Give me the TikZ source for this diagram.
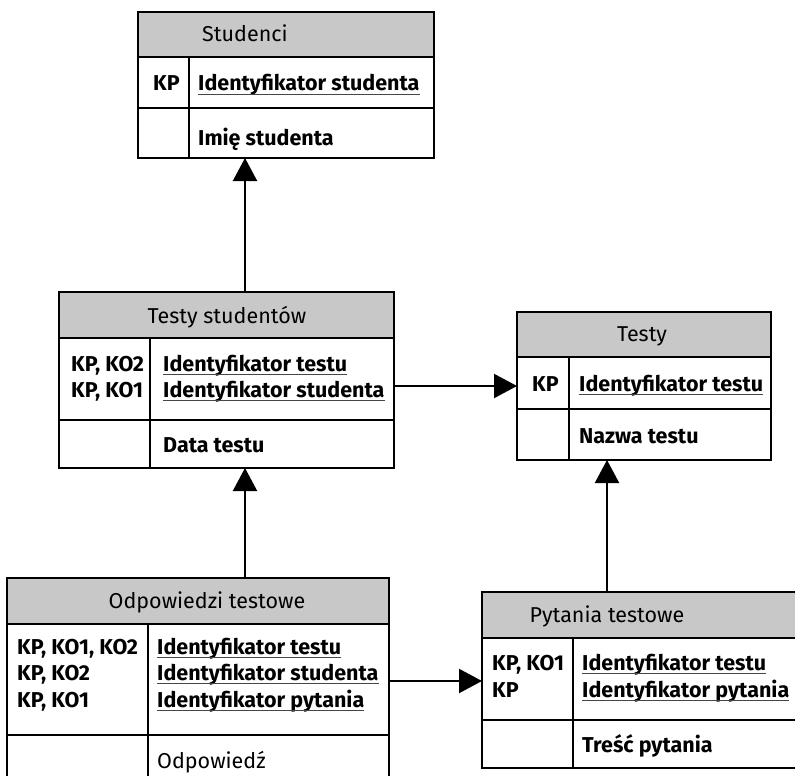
\documentclass[tikz,border=0pt]{standalone}
\usepackage{fontspec}
\setmainfont{Fira Sans}
\usetikzlibrary{arrows.meta}
\definecolor{hdrgray}{RGB}{200,200,200}
\definecolor{ulgray}{RGB}{70,70,70}
\newcommand\erfont{\fontsize{21.5}{25}\selectfont}
\tikzset{
  tbl/.style={draw=black, line width=1.6pt},
  hdrfill/.style={fill=hdrgray},
  htxt/.style={inner sep=0pt, anchor=base, font=\erfont},
  ktxt/.style={inner sep=0pt, anchor=base west, font=\erfont\bfseries},
  atxt/.style={inner sep=0pt, anchor=base west, font=\erfont\bfseries},
  rtxt/.style={inner sep=0pt, anchor=base west, font=\erfont},
  ulline/.style={draw=ulgray, line width=1.3pt},
  conn/.style={line width=2.2pt, -{Triangle[length=23pt,width=24pt]}}
}
\newcommand\ulattr[4]{%
  \node[atxt] (#1) at (#2,#3) {#4};
  \draw[ulline] ([yshift=-3.5pt]#1.base west) -- ([yshift=-3.5pt]#1.base east);}
\newcommand\erbox[7]{% x1 y1 yh yr y2 xd x2
  \fill[hdrfill] (#1,#2) rectangle (#7,#3);
  \draw[tbl] (#1,#2) rectangle (#7,#5);
  \draw[tbl] (#1,#3) -- (#7,#3);
  \draw[tbl] (#1,#4) -- (#7,#4);
  \draw[tbl] (#6,#3) -- (#6,#5);}
\begin{document}
\begin{tikzpicture}[x=1pt,y=-1pt]
\path[use as bounding box, clip] (0,0) rectangle (795,776);
\fill[white] (0,0) rectangle (795,776);

% Studenci
\erbox{138}{12}{57}{108}{158}{189}{434}
\node[htxt] (studH) at (245,42) {Studenci};
\node[ktxt] (studK1) at (153,91) {KP};
\ulattr{studA1}{198}{91}{Identyfikator studenta}
\node[atxt] (studA2) at (198,145) {Imię studenta};

% Testy studentow
\erbox{59}{292}{338}{420}{468}{150}{394}
\node[htxt] (tsH) at (227,323) {Testy studentów};
\node[ktxt] (tsK1) at (71,371) {KP, KO2};
\node[ktxt] (tsK2) at (71,397) {KP, KO1};
\ulattr{tsA1}{163}{371}{Identyfikator testu}
\ulattr{tsA2}{163}{397}{Identyfikator studenta}
\node[atxt] (tsA3) at (163,452) {Data testu};

% Testy
\erbox{517}{312}{357}{409}{460}{569}{771}
\node[htxt] (tH) at (642,341) {Testy};
\node[ktxt] (tK1) at (532,391) {KP};
\ulattr{tA1}{579}{391}{Identyfikator testu}
\node[atxt] (tA2) at (579,443) {Nazwa testu};

% Odpowiedzi testowe
\erbox{7}{578}{624}{735}{800}{148}{389}
\node[htxt] (oH) at (207,608) {Odpowiedzi testowe};
\node[ktxt] (oK1) at (17,654) {KP, KO1, KO2};
\node[ktxt] (oK2) at (17,680) {KP, KO2};
\node[ktxt] (oK3) at (17,707) {KP, KO1};
\ulattr{oA1}{157}{654}{Identyfikator testu}
\ulattr{oA2}{157}{680}{Identyfikator studenta}
\ulattr{oA3}{157}{707}{Identyfikator pytania}
\node[rtxt] (oA4) at (157,768) {Odpowiedź};

% Pytania testowe
\erbox{482}{592}{638}{720}{768}{573}{830}
\node[htxt] (pH) at (607,622) {Pytania testowe};
\node[ktxt] (pK1) at (492,670) {KP, KO1};
\node[ktxt] (pK2) at (492,697) {KP};
\ulattr{pA1}{582}{670}{Identyfikator testu}
\ulattr{pA2}{582}{697}{Identyfikator pytania}
\node[atxt] (pA3) at (582,752) {Treść pytania};

% connector end points
\coordinate (studS) at (245,158);
\coordinate (tsN) at (245,292);
\coordinate (tsE) at (394,386);
\coordinate (testyW) at (517,386);
\coordinate (tsS) at (245,468);
\coordinate (odpN) at (245,578);
\coordinate (odpE) at (389,681);
\coordinate (pytW) at (482,681);
\coordinate (pytN) at (607,592);
\coordinate (testyS) at (607,460);

\draw[conn] (tsN) -- (studS);
\draw[conn] (tsE) -- (testyW);
\draw[conn] (odpN) -- (tsS);
\draw[conn] (odpE) -- (pytW);
\draw[conn] (pytN) -- (testyS);
\end{tikzpicture}
\end{document}
